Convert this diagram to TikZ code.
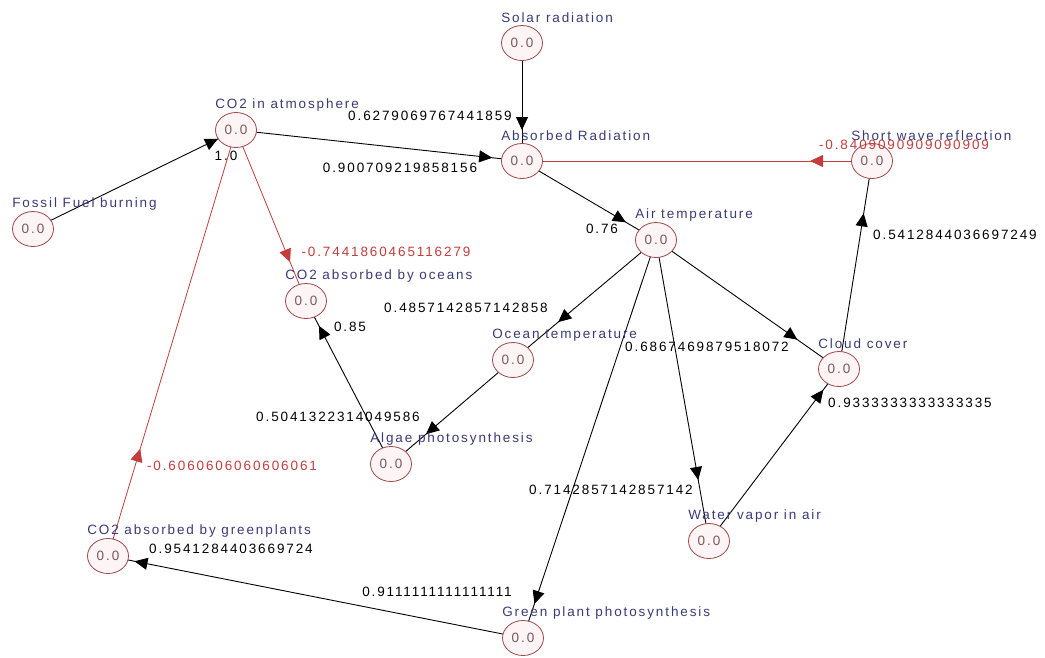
\documentclass[tikz,border=0pt]{standalone}
\usepackage{fontspec}
\setmainfont[LetterSpace=14]{Liberation Sans}
\usetikzlibrary{shapes.geometric,arrows.meta,decorations.markings,backgrounds}

\definecolor{ringred}{HTML}{A04848}
\definecolor{ringfill}{HTML}{FDF5F5}
\definecolor{valgray}{HTML}{7A5858}
\definecolor{namenavy}{HTML}{3A3A78}
\definecolor{negred}{HTML}{C43C3C}

\tikzset{
  ring/.style={ellipse, draw=ringred, fill=ringfill, line width=0.8pt,
    minimum width=41pt, minimum height=35pt, inner sep=0pt, text=valgray},
  cname/.style={anchor=west, inner sep=0pt, text=namenavy},
  wt/.style={inner sep=0pt, text=black},
  nwt/.style={inner sep=0pt, text=negred},
  edge/.style={draw=black, line width=0.9pt},
  nedge/.style={color=negred, line width=0.8pt},
  tipat/.style={postaction={decorate}, decoration={markings,
    mark=at position #1 with {\arrow{Triangle[length=13pt,width=12pt]}}}}
}

% concept node: circle with its value, name written above its left edge
\newcommand\fcmnode[3]{%
  \node[ring] (#1) at (#2) {0.0};
  \node[cname] (#1-name) at ([yshift=25pt]#1.west) {#3};}

\begin{document}
\begin{tikzpicture}[x=1pt, y=-1pt, font=\fontsize{13.5}{16}\selectfont]
\useasboundingbox (0,0) rectangle (1045,657);

% concepts
\fcmnode{solar}{522,43}{Solar radiation}
\fcmnode{atm}{236,130}{CO2 in atmosphere}
\fcmnode{absorbed}{522,161}{Absorbed Radiation}
\fcmnode{shortwave}{872,161}{Short wave reflection}
\fcmnode{fossil}{33,229}{Fossil Fuel burning}
\fcmnode{air}{656,240}{Air temperature}
\fcmnode{oceans}{306,301}{CO2 absorbed by oceans}
\fcmnode{oceantemp}{513,360}{Ocean temperature}
\fcmnode{cloud}{839,369}{Cloud cover}
\fcmnode{algae}{391,464}{Algae photosynthesis}
\fcmnode{water}{709,541}{Water vapor in air}
\fcmnode{greenplants}{108,556}{CO2 absorbed by greenplants}
\fcmnode{greenphoto}{523,638}{Green plant photosynthesis}

% causal links, drawn behind the concept circles
\begin{scope}[on background layer]
  \draw[edge, tipat=-20pt] (fossil.center) -- (atm.center);
  \draw[edge, tipat=-30pt] (atm.center) -- (absorbed.center);
  \draw[edge, tipat=-31pt] (solar.center) -- (absorbed.center);
  \draw[nedge, tipat=62pt] (shortwave.center) -- (absorbed.center);
  \draw[edge, tipat=-35pt] (absorbed.center) -- (air.center);
  \draw[nedge, tipat=-42pt] (atm.center) -- (oceans.center);
  \draw[edge, tipat=-59pt] (air.center) -- (oceantemp.center);
  \draw[edge, tipat=-51pt] (air.center) -- (cloud.center);
  \draw[edge, tipat=-62pt] (air.center) -- (water.center);
  \draw[edge, tipat=-36pt] (air.center) -- (greenphoto.center);
  \draw[edge, tipat=-46pt] (oceantemp.center) -- (algae.center);
  \draw[edge, tipat=-28pt] (algae.center) -- (oceans.center);
  \draw[edge, tipat=-26pt] (water.center) -- (cloud.center);
  \draw[edge, tipat=-53pt] (cloud.center) -- (shortwave.center);
  \draw[nedge, tipat=112pt] (greenplants.center) -- (atm.center);
  \draw[edge, tipat=-27pt] (greenphoto.center) -- (greenplants.center);
\end{scope}

% link weights
\node[wt] (w-fossil-atm) at (226,156) {1.0};
\node[wt] (w-atm-abs) at (400,168) {0.900709219858156};
\node[wt] (w-solar-abs) at (430,116) {0.6279069767441859};
\node[nwt] (w-sw-abs) at (904,145) {-0.8409090909090909};
\node[wt] (w-abs-air) at (602,229) {0.76};
\node[nwt] (w-atm-oceans) at (386,252) {-0.7441860465116279};
\node[wt] (w-air-ocean) at (466,308) {0.4857142857142858};
\node[wt] (w-air-cloud) at (707,347) {0.6867469879518072};
\node[wt] (w-air-water) at (611,490) {0.7142857142857142};
\node[wt] (w-air-gp) at (437,592) {0.9111111111111111};
\node[wt] (w-ocean-algae) at (338,417) {0.5041322314049586};
\node[wt] (w-algae-oceans) at (350,327) {0.85};
\node[wt] (w-water-cloud) at (910,403) {0.9333333333333335};
\node[wt] (w-cloud-sw) at (955,235) {0.5412844036697249};
\node[nwt] (w-gpl-atm) at (232,466) {-0.6060606060606061};
\node[wt] (w-gp-gpl) at (231,549) {0.9541284403669724};
\end{tikzpicture}
\end{document}
